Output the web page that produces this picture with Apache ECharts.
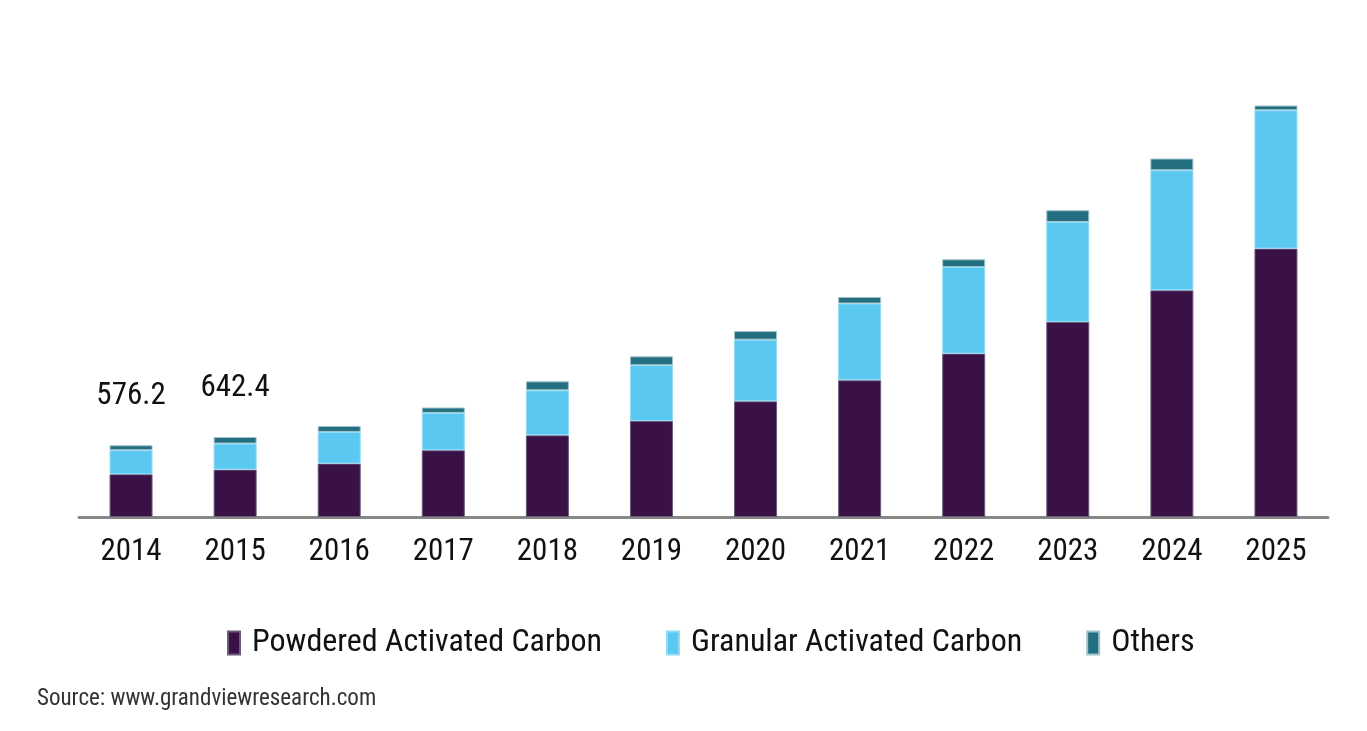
<!DOCTYPE html>
<html>
<head>
<meta charset="utf-8">
<script src="https://cdn.jsdelivr.net/npm/echarts@6/dist/echarts.min.js"></script>
<style>
html,body{margin:0;padding:0;background:#fff;}
#chart{width:1367px;height:731px;}
</style>
</head>
<body>
<div id="chart"></div>
<script>
const years = ['2014','2015','2016','2017','2018','2019','2020','2021','2022','2023','2024','2025'];
const powdered = [343.2, 380.5, 429, 536, 656, 771, 929, 1098, 1312, 1566, 1820, 2155];
const granular = [193.0, 209.0, 254, 300, 361, 447, 495, 616, 695, 803, 964, 1111];
const others = [40.0, 52.9, 48, 43, 72, 72, 69, 53, 62, 94, 94, 59];
const totalLabels = ['576.2', '642.4', '', '', '', '', '', '', '', '', '', ''];

const FONT = "'Liberation Sans Narrow', 'Arial Narrow', 'Roboto Condensed', Roboto, sans-serif";

const chart = echarts.init(document.getElementById('chart'));
chart.setOption({
  backgroundColor: '#ffffff',
  animation: false,
  grid: { left: 79, right: 39, top: 106, bottom: 214 },
  legend: {
    bottom: 67,
    left: 222,
    itemWidth: 12,
    itemHeight: 23,
    itemGap: 64,
    icon: 'rect',
    textStyle: { fontFamily: FONT, fontSize: 32, color: '#111', padding: [0, 0, 0, 7] },
    data: ['Powdered Activated Carbon', 'Granular Activated Carbon', 'Others']
  },
  graphic: [{
    type: 'text',
    left: 37,
    top: 688,
    style: { text: 'Source: www.grandviewresearch.com', fontFamily: FONT, fontSize: 23, fill: '#333' }
  }],
  xAxis: {
    type: 'category',
    data: years,
    axisLine: { lineStyle: { color: '#888', width: 3 } },
    axisTick: { show: false },
    axisLabel: { fontFamily: FONT, fontSize: 31, color: '#111', margin: 20 }
  },
  yAxis: {
    type: 'value',
    min: 0,
    max: 3300,
    show: false,
    splitLine: { show: false }
  },
  series: [
    {
      name: 'Powdered Activated Carbon',
      type: 'bar',
      stack: 'total',
      barWidth: 43,
      itemStyle: { color: '#3a1147', borderColor: '#6d5a78', borderWidth: 1 },
      data: powdered
    },
    {
      name: 'Granular Activated Carbon',
      type: 'bar',
      stack: 'total',
      barWidth: 43,
      itemStyle: { color: '#5bc8f2', borderColor: '#8fdcf7', borderWidth: 1 },
      data: granular
    },
    {
      name: 'Others',
      type: 'bar',
      stack: 'total',
      barWidth: 43,
      itemStyle: { color: '#236e80', borderColor: '#9fc3cc', borderWidth: 1 },
      label: {
        show: true,
        position: 'top',
        distance: 33,
        fontFamily: FONT,
        fontSize: 31,
        color: '#111',
        formatter: p => totalLabels[p.dataIndex]
      },
      data: others
    }
  ]
});
</script>
</body>
</html>
